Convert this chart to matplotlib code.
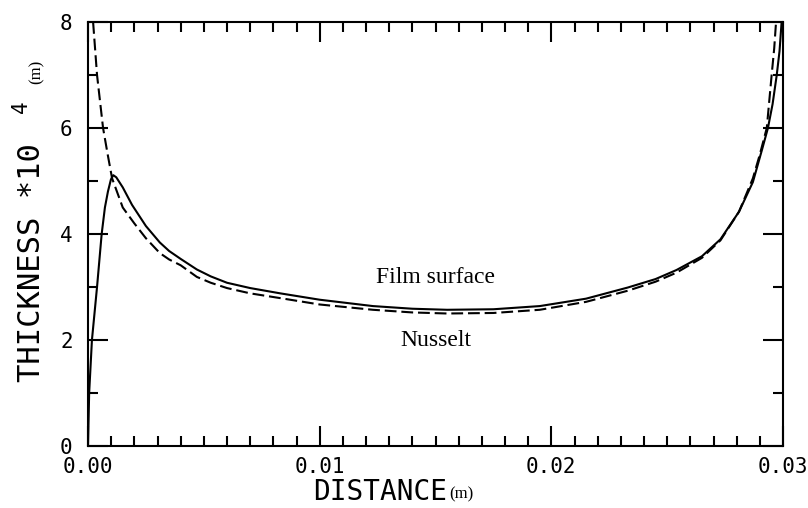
import matplotlib
matplotlib.use("Agg")
import matplotlib.pyplot as plt
from matplotlib.ticker import MultipleLocator, FormatStrFormatter

# Film surface (solid), thickness * 1e4 (m) vs distance (m)
film_x = [0.0, 0.00005, 0.00017, 0.00039, 0.00059, 0.00073, 0.00086, 0.00099,
          0.00109, 0.00122, 0.0015, 0.0019, 0.0025, 0.0031, 0.0035, 0.0040,
          0.0047, 0.0053, 0.0060, 0.0070, 0.0083, 0.0100, 0.0123, 0.0140,
          0.0155, 0.0175, 0.0195, 0.0215, 0.0233, 0.0245, 0.0254, 0.0265,
          0.0273, 0.0281, 0.0287, 0.0291, 0.02935, 0.02955, 0.02973, 0.02985,
          0.02994]
film_y = [0.0, 1.0, 2.0, 3.0, 4.0, 4.5, 4.8, 5.03,
          5.11, 5.07, 4.88, 4.55, 4.15, 3.84, 3.68, 3.53,
          3.33, 3.20, 3.08, 2.98, 2.88, 2.76, 2.64, 2.59,
          2.57, 2.58, 2.64, 2.78, 2.99, 3.15, 3.32, 3.58,
          3.90, 4.42, 4.98, 5.6, 6.0, 6.45, 7.0, 7.45,
          8.0]

# Nusselt solution (dashed)
nus_x = [0.00022, 0.00039, 0.00065, 0.00085, 0.00104, 0.0015, 0.0020, 0.0025,
         0.0031, 0.0035, 0.0040, 0.0047, 0.0053, 0.0060, 0.0070, 0.0083,
         0.0100, 0.0123, 0.0140, 0.0155, 0.0175, 0.0195, 0.0215, 0.0233,
         0.0245, 0.0254, 0.0265, 0.0273, 0.0281, 0.0287, 0.0290, 0.0293,
         0.02951, 0.02962, 0.0297]
nus_y = [8.0, 7.0, 6.0, 5.5, 5.05, 4.5, 4.2, 3.92,
         3.64, 3.52, 3.41, 3.19, 3.08, 2.98, 2.88, 2.79,
         2.67, 2.57, 2.52, 2.50, 2.51, 2.57, 2.72, 2.93,
         3.10, 3.27, 3.55, 3.88, 4.42, 5.05, 5.5, 6.0,
         7.0, 7.5, 8.0]

x_ticks = [0.00, 0.01, 0.02, 0.03]
y_ticks = [0, 2, 4, 6, 8]

plt.rcParams["lines.scale_dashes"] = False
MONO = "DejaVu Sans Mono"
SERIF = "Liberation Serif"

fig = plt.figure(figsize=(8.08, 5.08), dpi=100)
ax = fig.add_axes([88 / 808, 1 - 446 / 508, 695 / 808, 424 / 508])

ax.plot(film_x, film_y, color="black", lw=1.5, solid_joinstyle="round")
ax.plot(nus_x, nus_y, color="black", lw=1.5, dashes=(8.5, 3.5))

ax.set_xlim(0, 0.03)
ax.set_ylim(0, 8)

for s in ax.spines.values():
    s.set_linewidth(1.5)

ax.set_xticks(x_ticks)
ax.set_yticks(y_ticks)
ax.xaxis.set_minor_locator(MultipleLocator(0.001))
ax.yaxis.set_minor_locator(MultipleLocator(1))
ax.xaxis.set_major_formatter(FormatStrFormatter("%.2f"))
ax.tick_params(which="both", direction="in", top=True, right=True, width=1.5)
ax.tick_params(which="major", length=14.4)
ax.tick_params(which="minor", length=7.2)
ax.tick_params(axis="x", which="major", pad=8)
ax.tick_params(axis="y", which="major", pad=11)
for lab in ax.get_xticklabels() + ax.get_yticklabels():
    lab.set_fontfamily(MONO)
    lab.set_fontsize(15)

ax.text(0.0150, 3.17, "Film surface", family=SERIF, fontsize=17,
        ha="center", va="center")
ax.text(0.0150, 1.99, "Nusselt", family=SERIF, fontsize=17,
        ha="center", va="center")

# axis titles placed in figure pixels
def px(x, y):
    return x / 808, 1 - y / 508

fig.text(*px(40, 382), "THICKNESS *10", family=MONO, fontsize=22,
         rotation=90, rotation_mode="anchor", ha="left", va="baseline")
fig.text(*px(27, 113), "4", family=MONO, fontsize=15,
         rotation=90, rotation_mode="anchor", ha="left", va="baseline")
fig.text(*px(41, 84), "(m)", family=SERIF, fontsize=12,
         rotation=90, rotation_mode="anchor", ha="left", va="baseline")

fig.text(*px(380, 500), "DISTANCE", family=MONO, fontsize=20,
         ha="center", va="baseline")
fig.text(*px(449, 498), "(m)", family=SERIF, fontsize=12,
         ha="left", va="baseline")

fig.savefig("out.png", dpi=100)
